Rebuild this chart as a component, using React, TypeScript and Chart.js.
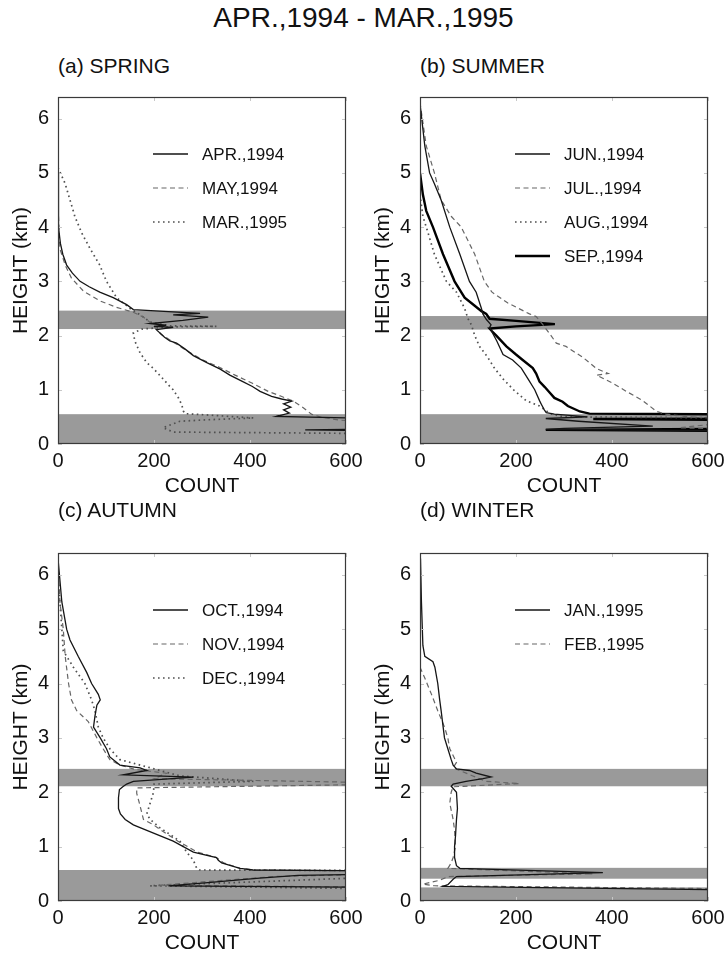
import React, { useEffect, useRef } from "react";
import { Chart, registerables } from "chart.js";

Chart.register(...registerables);

const FONT = "'Liberation Sans', Arial, Helvetica, sans-serif";

const MAIN_TITLE = "APR.,1994 - MAR.,1995";
const X_AXIS_TITLE = "COUNT";
const Y_AXIS_TITLE = "HEIGHT (km)";
const X_MIN = 0;
const X_MAX = 600;
const X_STEP = 200;
const Y_MIN = 0;
const Y_MAX = 6.4;
const Y_STEP = 1;

// ---------- (a) SPRING ----------
const springTitle = "(a) SPRING";
const springBands = [[2.12, 2.46], [0, 0.55]];

const aprLabel = "APR.,1994";
const aprCount = [0, 0, 2, 5, 10, 18, 30, 46, 65, 87, 115, 143, 157, 230, 296, 240, 313, 260, 192, 225, 200, 240, 205, 212, 222, 233, 247, 265, 282, 310, 338, 358, 385, 405, 421, 445, 466, 487, 470, 485, 470, 482, 455, 700, 700, 515, 700];
const aprHeight = [5.0, 4.5, 4.0, 3.7, 3.5, 3.3, 3.15, 3.0, 2.9, 2.8, 2.7, 2.57, 2.48, 2.44, 2.41, 2.38, 2.34, 2.28, 2.22, 2.19, 2.17, 2.15, 2.11, 2.05, 1.97, 1.9, 1.86, 1.75, 1.63, 1.5, 1.38, 1.27, 1.15, 1.06, 0.97, 0.88, 0.83, 0.79, 0.74, 0.68, 0.63, 0.57, 0.51, 0.46, 0.28, 0.26, 0.24];

const mayLabel = "MAY,1994";
const mayCount = [0, 0, 1, 4, 15, 28, 53, 87, 122, 157, 178, 195, 205, 215, 233, 265, 299, 335, 369, 405, 438, 465, 490, 511, 528, 546, 587, 700];
const mayHeight = [5.3, 4.7, 4.2, 3.6, 3.3, 3.06, 2.82, 2.64, 2.52, 2.43, 2.34, 2.22, 2.12, 2.02, 1.92, 1.74, 1.56, 1.42, 1.27, 1.12, 0.97, 0.88, 0.79, 0.67, 0.55, 0.5, 0.44, 0.38];

const marLabel = "MAR.,1995";
const marCount = [0, 15, 25, 35, 49, 67, 87, 101, 122, 150, 175, 192, 233, 330, 233, 175, 157, 160, 171, 185, 199, 219, 230, 240, 251, 258, 261, 265, 320, 407, 320, 254, 219, 240, 700];
const marHeight = [5.1, 4.8, 4.5, 4.2, 3.9, 3.6, 3.3, 3.0, 2.7, 2.5, 2.36, 2.25, 2.18, 2.17, 2.16, 2.12, 2.05, 1.9, 1.68, 1.5, 1.39, 1.2, 1.09, 1.0, 0.85, 0.72, 0.61, 0.56, 0.53, 0.48, 0.45, 0.42, 0.3, 0.22, 0.19];

// ---------- (b) SUMMER ----------
const summerTitle = "(b) SUMMER";
const summerBands = [[2.11, 2.36], [0, 0.55]];

const junLabel = "JUN.,1994";
const junCount = [1, 10, 20, 30, 44, 62, 83, 103, 117, 128, 131, 138, 148, 145, 148, 160, 173, 193, 211, 225, 239, 249, 253, 259, 263, 280, 349, 262, 330, 485, 300, 262, 700];
const junHeight = [6.2, 5.5, 5.0, 4.8, 4.5, 4.0, 3.5, 3.0, 2.8, 2.5, 2.4, 2.3, 2.2, 2.15, 2.1, 1.9, 1.65, 1.55, 1.4, 1.2, 1.0, 0.8, 0.73, 0.63, 0.58, 0.55, 0.5, 0.47, 0.42, 0.33, 0.29, 0.27, 0.24];

const julLabel = "JUL.,1994";
const julCount = [0, 13, 30, 44, 65, 86, 114, 134, 150, 183, 228, 242, 256, 273, 284, 304, 339, 368, 392, 368, 400, 430, 464, 493, 512, 560, 700, 540, 700];
const julHeight = [6.3, 5.5, 5.0, 4.5, 4.2, 4.0, 3.5, 3.0, 2.8, 2.6, 2.4, 2.35, 2.2, 2.0, 1.86, 1.8, 1.6, 1.39, 1.3, 1.27, 1.13, 0.97, 0.8, 0.6, 0.55, 0.5, 0.45, 0.3, 0.26];

const augLabel = "AUG.,1994";
const augCount = [0, 6, 20, 30, 55, 76, 93, 100, 107, 114, 124, 141, 155, 173, 195, 221, 249, 265, 275, 300, 700];
const augHeight = [4.6, 4.2, 3.8, 3.5, 3.0, 2.8, 2.5, 2.31, 2.2, 2.0, 1.8, 1.6, 1.4, 1.2, 1.0, 0.8, 0.7, 0.6, 0.55, 0.5, 0.48];

const sepLabel = "SEP.,1994";
const sepCount = [0, 6, 13, 27, 48, 72, 93, 114, 128, 138, 145, 200, 281, 200, 145, 150, 159, 180, 200, 214, 235, 242, 249, 260, 270, 280, 297, 308, 333, 353, 700, 700, 361, 700, 700, 262, 700];
const sepHeight = [5.0, 4.6, 4.3, 4.0, 3.5, 3.0, 2.7, 2.55, 2.45, 2.4, 2.31, 2.27, 2.21, 2.17, 2.13, 2.08, 2.0, 1.8, 1.65, 1.55, 1.4, 1.3, 1.15, 1.05, 0.95, 0.85, 0.78, 0.7, 0.6, 0.56, 0.545, 0.47, 0.46, 0.44, 0.28, 0.26, 0.24];

// ---------- (c) AUTUMN ----------
const autumnTitle = "(c) AUTUMN";
const autumnBands = [[2.11, 2.43], [0, 0.57]];

const octLabel = "OCT.,1994";
const octCount = [0, 8, 18, 25, 42, 60, 70, 84, 88, 81, 77, 74, 88, 101, 108, 129, 171, 185, 136, 282, 157, 143, 135, 128, 126, 126, 130, 140, 157, 185, 240, 282, 330, 334, 341, 379, 407, 700, 700, 500, 420, 300, 230, 700];
const octHeight = [6.3, 5.5, 5.0, 4.8, 4.5, 4.2, 4.0, 3.8, 3.7, 3.6, 3.4, 3.2, 3.0, 2.8, 2.65, 2.5, 2.45, 2.4, 2.32, 2.28, 2.2, 2.15, 2.1, 2.05, 1.9, 1.7, 1.6, 1.5, 1.4, 1.3, 1.1, 0.9, 0.8, 0.75, 0.7, 0.6, 0.57, 0.55, 0.5, 0.47, 0.42, 0.33, 0.28, 0.25];

const novLabel = "NOV.,1994";
const novCount = [0, 4, 11, 15, 22, 28, 39, 63, 81, 94, 108, 129, 160, 226, 200, 700, 700, 164, 164, 171, 178, 199, 215, 250, 290, 330, 345, 380, 410, 700, 700, 450, 300, 210, 700];
const novHeight = [6.2, 5.5, 5.0, 4.5, 4.0, 3.7, 3.5, 3.3, 3.0, 2.8, 2.6, 2.5, 2.42, 2.35, 2.25, 2.17, 2.15, 2.08, 1.98, 1.75, 1.5, 1.4, 1.3, 1.1, 0.9, 0.8, 0.7, 0.6, 0.57, 0.55, 0.5, 0.45, 0.35, 0.29, 0.25];

const decLabel = "DEC.,1994";
const decCount = [0, 8, 11, 32, 56, 70, 77, 84, 94, 108, 129, 192, 254, 407, 200, 199, 192, 185, 192, 212, 254, 268, 282, 289, 295, 700, 700, 192, 700];
const decHeight = [6.0, 5.0, 4.6, 4.3, 4.0, 3.7, 3.5, 3.2, 3.0, 2.8, 2.6, 2.45, 2.3, 2.2, 2.15, 2.0, 1.8, 1.6, 1.5, 1.35, 1.1, 0.9, 0.75, 0.6, 0.57, 0.56, 0.45, 0.28, 0.22];

// ---------- (d) WINTER ----------
const winterTitle = "(d) WINTER";
const winterBands = [[2.11, 2.43], [0.41, 0.61], [0, 0.25]];

const janLabel = "JAN.,1995";
const janCount = [1, 3, 6, 10, 27, 31, 37, 41, 44, 51, 58, 65, 69, 76, 103, 117, 148, 131, 96, 69, 65, 76, 78, 76, 74, 72, 72, 76, 83, 381, 76, 69, 58, 48, 700];
const janHeight = [6.3, 5.5, 4.7, 4.5, 4.4, 4.3, 4.0, 3.7, 3.5, 3.0, 2.8, 2.6, 2.5, 2.43, 2.4, 2.35, 2.28, 2.25, 2.2, 2.15, 2.11, 2.0, 1.7, 1.5, 1.2, 1.0, 0.8, 0.65, 0.6, 0.52, 0.45, 0.4, 0.3, 0.27, 0.2];

const febLabel = "FEB.,1995";
const febCount = [0, 10, 24, 37, 51, 58, 62, 76, 69, 110, 138, 207, 69, 65, 62, 69, 72, 74, 69, 65, 58, 360, 60, 40, 6, 30, 700];
const febHeight = [4.3, 4.1, 3.8, 3.5, 3.2, 3.0, 2.8, 2.55, 2.45, 2.3, 2.2, 2.16, 2.1, 2.0, 1.8, 1.5, 1.3, 1.0, 0.8, 0.7, 0.6, 0.5, 0.45, 0.38, 0.31, 0.28, 0.22];

// ---------- styles ----------
type LineStyle = { color: string; width: number; dash: number[] };
const STYLES: Record<string, LineStyle> = {
  solid: { color: "#151515", width: 1.3, dash: [] },
  dashed: { color: "#666666", width: 1.2, dash: [5, 3.5] },
  dotted: { color: "#505050", width: 1.7, dash: [1.6, 3.4] },
  bold: { color: "#000000", width: 2.4, dash: [] },
};

type Series = { label: string; counts: number[]; heights: number[]; style: string };
type PanelSpec = {
  title: string;
  bands: number[][];
  series: Series[];
  left: number;
  top: number;
  titleOffset: number;
};

const CANVAS_W = 370;
const Y_AXIS_W = 58;
const X_AXIS_H = 57;
const PAD_TOP = 10;
const PAD_RIGHT = 24;

const PANELS: PanelSpec[] = [
  {
    title: springTitle,
    bands: springBands,
    series: [
      { label: aprLabel, counts: aprCount, heights: aprHeight, style: "solid" },
      { label: mayLabel, counts: mayCount, heights: mayHeight, style: "dashed" },
      { label: marLabel, counts: marCount, heights: marHeight, style: "dotted" },
    ],
    left: 0,
    top: 76,
    titleOffset: 20,
  },
  {
    title: summerTitle,
    bands: summerBands,
    series: [
      { label: junLabel, counts: junCount, heights: junHeight, style: "solid" },
      { label: julLabel, counts: julCount, heights: julHeight, style: "dashed" },
      { label: augLabel, counts: augCount, heights: augHeight, style: "dotted" },
      { label: sepLabel, counts: sepCount, heights: sepHeight, style: "bold" },
    ],
    left: 362,
    top: 76,
    titleOffset: 20,
  },
  {
    title: autumnTitle,
    bands: autumnBands,
    series: [
      { label: octLabel, counts: octCount, heights: octHeight, style: "solid" },
      { label: novLabel, counts: novCount, heights: novHeight, style: "dashed" },
      { label: decLabel, counts: decCount, heights: decHeight, style: "dotted" },
    ],
    left: 0,
    top: 532,
    titleOffset: 32,
  },
  {
    title: winterTitle,
    bands: winterBands,
    series: [
      { label: janLabel, counts: janCount, heights: janHeight, style: "solid" },
      { label: febLabel, counts: febCount, heights: febHeight, style: "dashed" },
    ],
    left: 362,
    top: 532,
    titleOffset: 32,
  },
];

function makeBandPlugin(bands: number[][]) {
  return {
    id: "bands",
    beforeDatasetsDraw(chart: any) {
      const { ctx, chartArea, scales } = chart;
      const y = scales.y;
      ctx.save();
      ctx.fillStyle = "#9a9a9a";
      bands.forEach(([lo, hi]) => {
        const y1 = y.getPixelForValue(hi);
        const y2 = y.getPixelForValue(lo);
        ctx.fillRect(chartArea.left, y1, chartArea.right - chartArea.left, y2 - y1);
      });
      ctx.restore();
    },
  };
}

const framePlugin = {
  id: "frame",
  afterDatasetsDraw(chart: any) {
    const { ctx, chartArea, scales } = chart;
    const { left, right, top, bottom } = chartArea;
    ctx.save();
    ctx.strokeStyle = "#c8c8c8";
    ctx.lineWidth = 1;
    ctx.beginPath();
    scales.y.ticks.forEach((t: any) => {
      const py = Math.round(scales.y.getPixelForValue(t.value)) + 0.5;
      ctx.moveTo(left, py);
      ctx.lineTo(left + 4, py);
      ctx.moveTo(right, py);
      ctx.lineTo(right - 4, py);
    });
    scales.x.ticks.forEach((t: any) => {
      const px = Math.round(scales.x.getPixelForValue(t.value)) + 0.5;
      ctx.moveTo(px, bottom);
      ctx.lineTo(px, bottom - 4);
      ctx.moveTo(px, top);
      ctx.lineTo(px, top + 4);
    });
    ctx.stroke();
    ctx.strokeStyle = "#3a3a3a";
    ctx.lineWidth = 1.2;
    ctx.strokeRect(left + 0.5, top + 0.5, right - left - 1, bottom - top - 1);
    ctx.restore();
  },
};

const legendPlugin = {
  id: "inlineLegend",
  afterDraw(chart: any) {
    const { ctx, chartArea } = chart;
    chart.data.datasets.forEach((ds: any, i: number) => {
      const y = chartArea.top + 57 + i * 34;
      ctx.save();
      ctx.strokeStyle = ds.borderColor;
      ctx.lineWidth = ds.borderWidth;
      ctx.setLineDash(ds.borderDash || []);
      ctx.beginPath();
      ctx.moveTo(chartArea.left + 95, y);
      ctx.lineTo(chartArea.left + 130, y);
      ctx.stroke();
      ctx.setLineDash([]);
      ctx.fillStyle = "#111111";
      ctx.font = `17px ${FONT}`;
      ctx.textBaseline = "middle";
      ctx.textAlign = "left";
      ctx.fillText(ds.label, chartArea.left + 144, y + 1);
      ctx.restore();
    });
  },
};

function Panel({ spec, height }: { spec: PanelSpec; height: number }) {
  const ref = useRef<HTMLCanvasElement>(null);
  useEffect(() => {
    const canvas = ref.current;
    if (!canvas) return;
    const datasets = spec.series.map((s) => {
      const st = STYLES[s.style];
      return {
        label: s.label,
        data: s.counts.map((c, i) => ({ x: c, y: s.heights[i] })),
        showLine: true,
        pointRadius: 0,
        pointHoverRadius: 0,
        borderColor: st.color,
        backgroundColor: st.color,
        borderWidth: st.width,
        borderDash: st.dash,
        tension: 0,
        fill: false,
        clip: 0,
      };
    });
    const tickFont = { family: FONT, size: 20 };
    const titleFont = { family: FONT, size: 21 };
    const chart = new Chart(canvas, {
      type: "scatter",
      data: { datasets } as any,
      options: {
        animation: false,
        responsive: false,
        maintainAspectRatio: false,
        devicePixelRatio: 1,
        layout: { padding: { left: 0, right: PAD_RIGHT, top: PAD_TOP, bottom: 0 } },
        plugins: {
          legend: { display: false },
          tooltip: { enabled: false },
          title: { display: false },
        },
        events: [],
        scales: {
          x: {
            type: "linear",
            min: X_MIN,
            max: X_MAX,
            ticks: { stepSize: X_STEP, includeBounds: false, font: tickFont, color: "#111111", padding: 5, maxRotation: 0 },
            grid: { display: false, drawTicks: false },
            border: { display: false },
            title: { display: true, text: X_AXIS_TITLE, font: titleFont, color: "#111111", padding: { top: 0, bottom: 2 } },
            afterFit: (s: any) => {
              s.height = X_AXIS_H;
            },
          },
          y: {
            type: "linear",
            min: Y_MIN,
            max: Y_MAX,
            ticks: { stepSize: Y_STEP, includeBounds: false, font: tickFont, color: "#111111", padding: 9 },
            grid: { display: false, drawTicks: false },
            border: { display: false },
            title: { display: true, text: Y_AXIS_TITLE, font: titleFont, color: "#111111", padding: { top: 9, bottom: 0 } },
            afterFit: (s: any) => {
              s.width = Y_AXIS_W;
            },
          },
        },
      } as any,
      plugins: [makeBandPlugin(spec.bands), framePlugin, legendPlugin],
    });
    return () => chart.destroy();
  }, []);

  return (
    <>
      <div
        style={{
          position: "absolute",
          left: spec.left + Y_AXIS_W,
          top: spec.top + PAD_TOP - spec.titleOffset - 12,
          font: `21px ${FONT}`,
          lineHeight: "24px",
          color: "#111111",
          whiteSpace: "nowrap",
        }}
      >
        {spec.title}
      </div>
      <canvas
        ref={ref}
        width={CANVAS_W}
        height={height}
        style={{ position: "absolute", left: spec.left, top: spec.top, width: CANVAS_W, height }}
      />
    </>
  );
}

export default function App() {
  return (
    <div style={{ position: "absolute", left: 0, top: 0, width: 727, height: 956, background: "#ffffff", overflow: "hidden" }}>
      <div
        style={{
          position: "absolute",
          left: 0,
          top: 2,
          width: 727,
          height: 42,
          lineHeight: "42px",
          textAlign: "center",
          font: `28px ${FONT}`,
          color: "#111111",
        }}
      >
        {MAIN_TITLE}
      </div>
      <Panel spec={PANELS[0]} height={425} />
      <Panel spec={PANELS[1]} height={425} />
      <Panel spec={PANELS[2]} height={426} />
      <Panel spec={PANELS[3]} height={426} />
    </div>
  );
}
